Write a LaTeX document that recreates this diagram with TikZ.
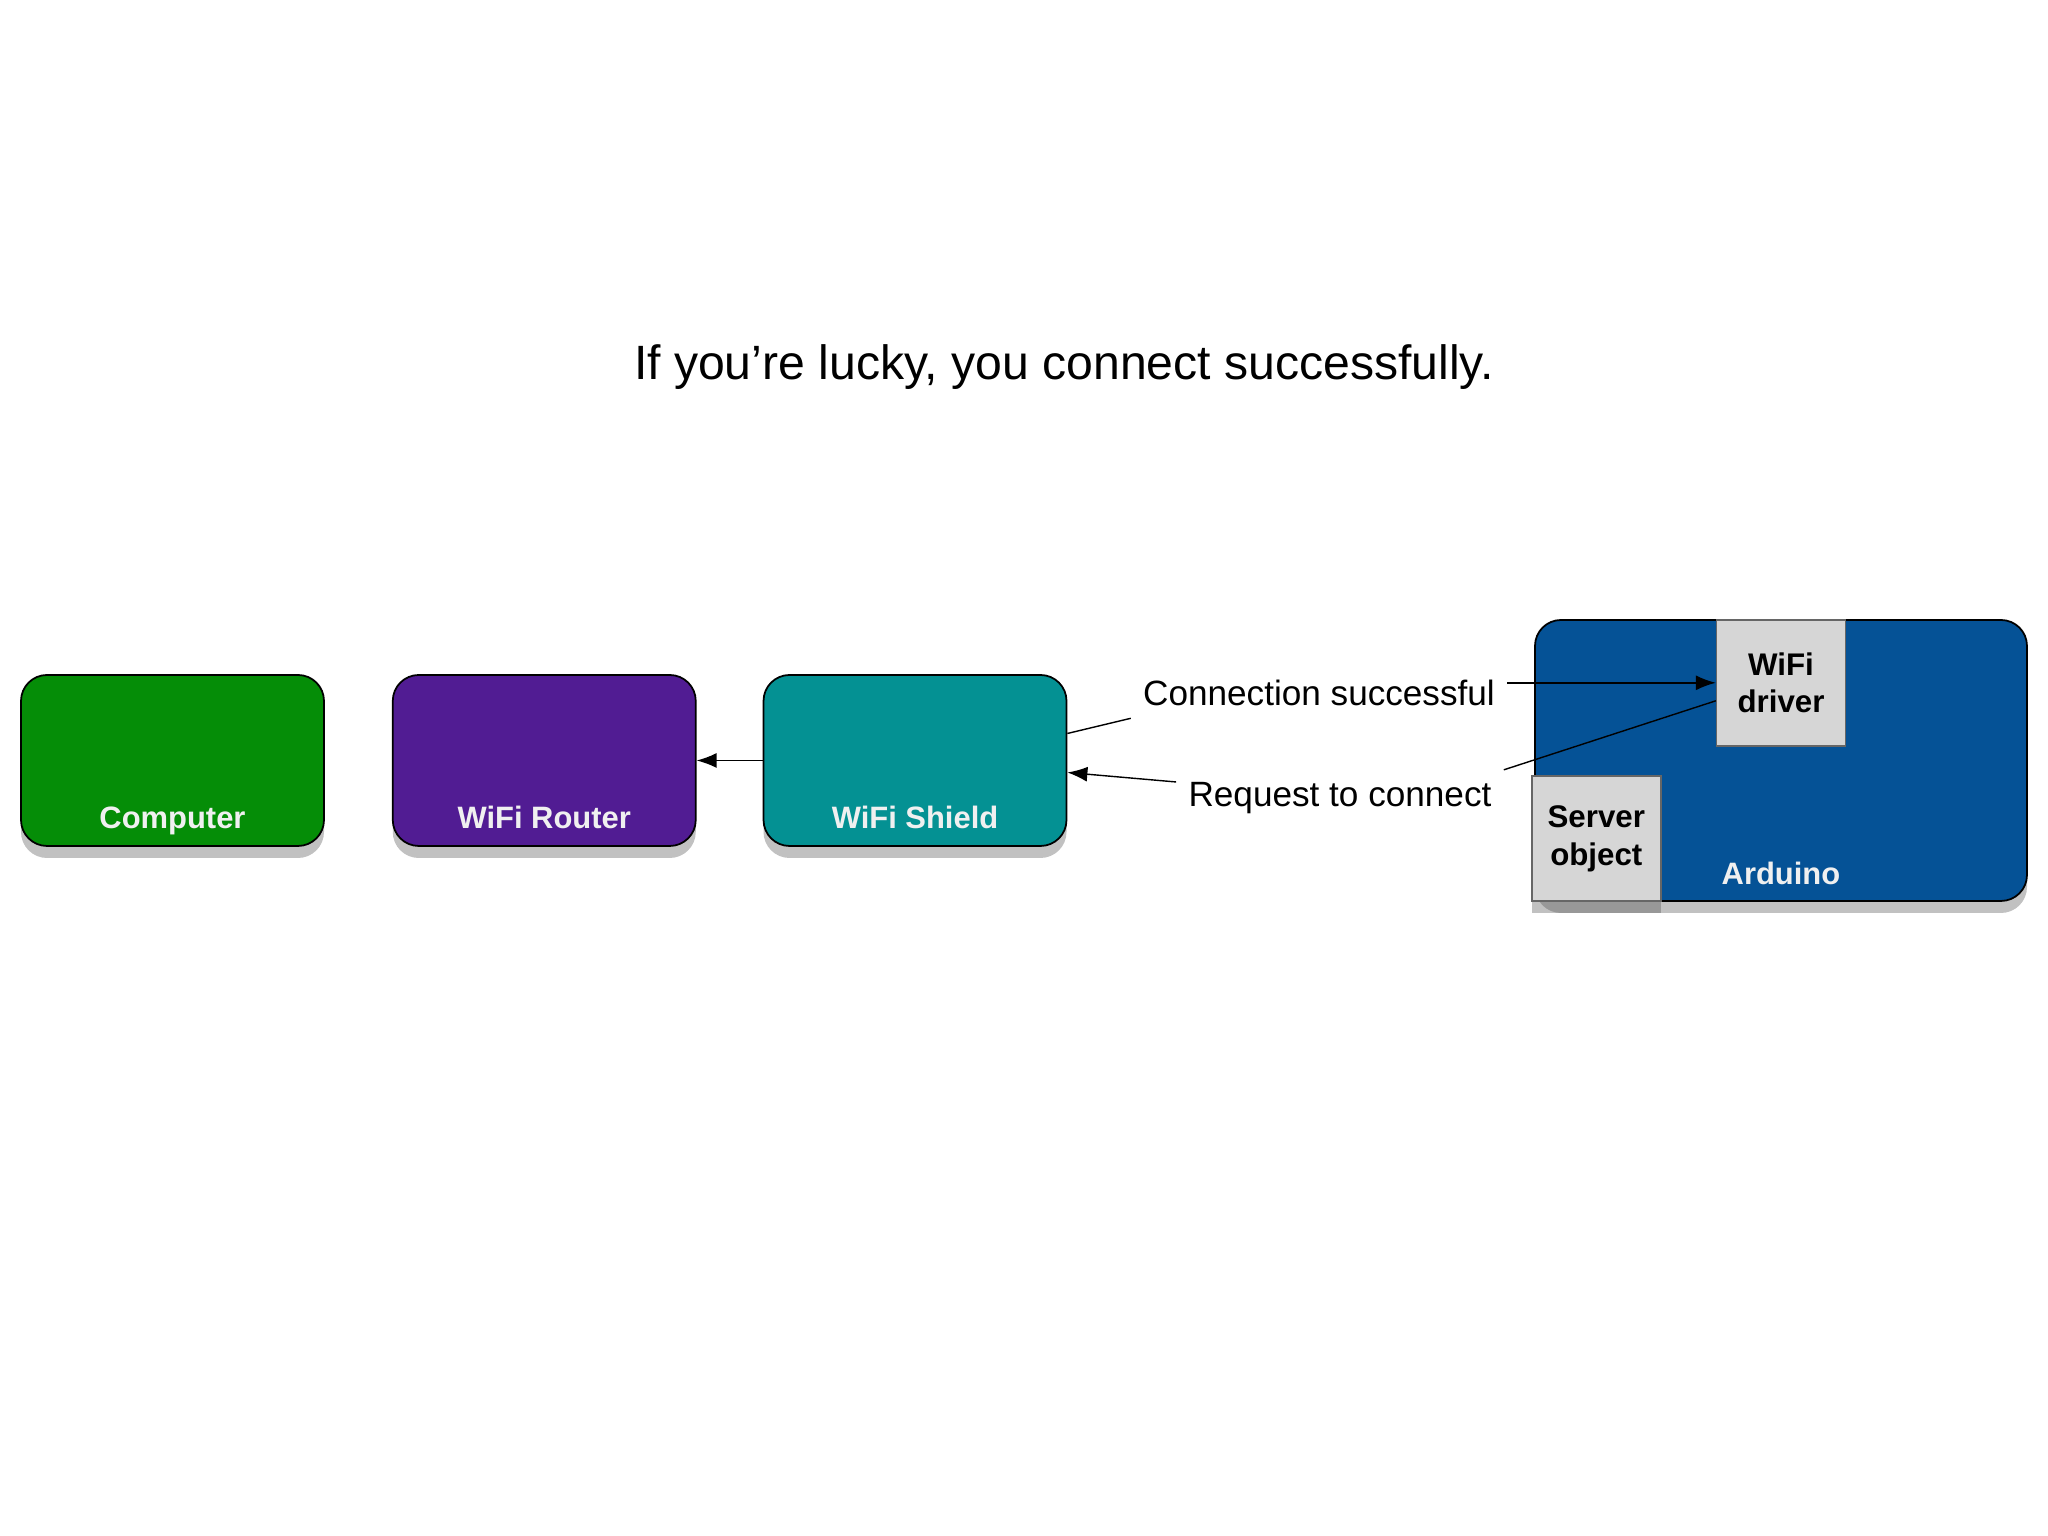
\documentclass[tikz,border=0pt]{standalone}
\usepackage{fontspec}
\setmainfont{Liberation Sans}
\usetikzlibrary{arrows.meta,positioning,shadows}
\definecolor{compgreen}{RGB}{5,141,7}
\definecolor{routerpurple}{RGB}{81,28,147}
\definecolor{shieldteal}{RGB}{4,145,147}
\definecolor{ardblue}{RGB}{5,82,150}
\definecolor{partgrey}{RGB}{214,214,214}
\definecolor{labelwhite}{RGB}{240,240,240}
\tikzset{
  dev/.style={draw=black, line width=0.5pt, rounded corners=0.26cm,
    minimum width=3.03cm, minimum height=1.71cm,
    drop shadow={shadow xshift=0pt, shadow yshift=-1.2mm, opacity=0.35, fill=black!70}},
  devlabel/.style={text=labelwhite, font=\fontsize{8.8}{10}\selectfont\bfseries,
    anchor=base, yshift=0.18cm},
  part/.style={draw=black!60, fill=partgrey, line width=0.4pt,
    minimum width=1.29cm, minimum height=1.26cm, align=center, inner sep=0pt,
    font=\fontsize{8.9}{10.8}\selectfont\bfseries},
  msg/.style={font=\fontsize{10}{12}\selectfont},
  link/.style={line width=0.4pt},
  tip/.style={-{Latex[length=2mm,width=1.5mm]}}
}
\begin{document}
\begin{tikzpicture}
\useasboundingbox (0,0) rectangle (20.48,15.36);
\node[font=\fontsize{13.7}{16}\selectfont] (title) at (10.64,11.69) {If you’re lucky, you connect successfully.};
% devices in a row
\node[dev, fill=compgreen, label={[devlabel]south:Computer}] (comp) at (1.725,7.755) {};
\node[dev, fill=routerpurple, right=0.67cm of comp, label={[devlabel]south:WiFi Router}] (router) {};
\node[dev, fill=shieldteal, right=0.66cm of router, label={[devlabel]south:WiFi Shield}] (shield) {};
\node[dev, fill=ardblue, minimum width=4.92cm, minimum height=2.81cm,
  label={[devlabel, yshift=-0.01cm]south:Arduino}] (ard) at (17.81,7.755) {};
\node[part, anchor=north] (drv) at (ard.north) {WiFi\\driver};
\node[part, anchor=south west, minimum height=1.25cm,
  drop shadow={shadow xshift=0pt, shadow yshift=-1.2mm, opacity=0.35, fill=black!70}] (srv) at ([xshift=-0.03cm]ard.south west) {Server\\object};
% messages
\node[msg] (conn) at (13.19,8.43) {Connection successful};
\node[msg] (req) at (13.40,7.38) {Request to connect};
\draw[link, tip] (shield.west) -- (router.east);
\draw[link] ([yshift=2.7mm]shield.east) -- (conn.south west);
\draw[link, tip] (conn.east |- drv.west) -- (drv.west);
\draw[link] ([yshift=-1.8mm]drv.west) -- (req.north east);
\draw[link, tip] ([yshift=1.6mm]req.west) -- ([yshift=-1.2mm]shield.east);
\end{tikzpicture}
\end{document}
